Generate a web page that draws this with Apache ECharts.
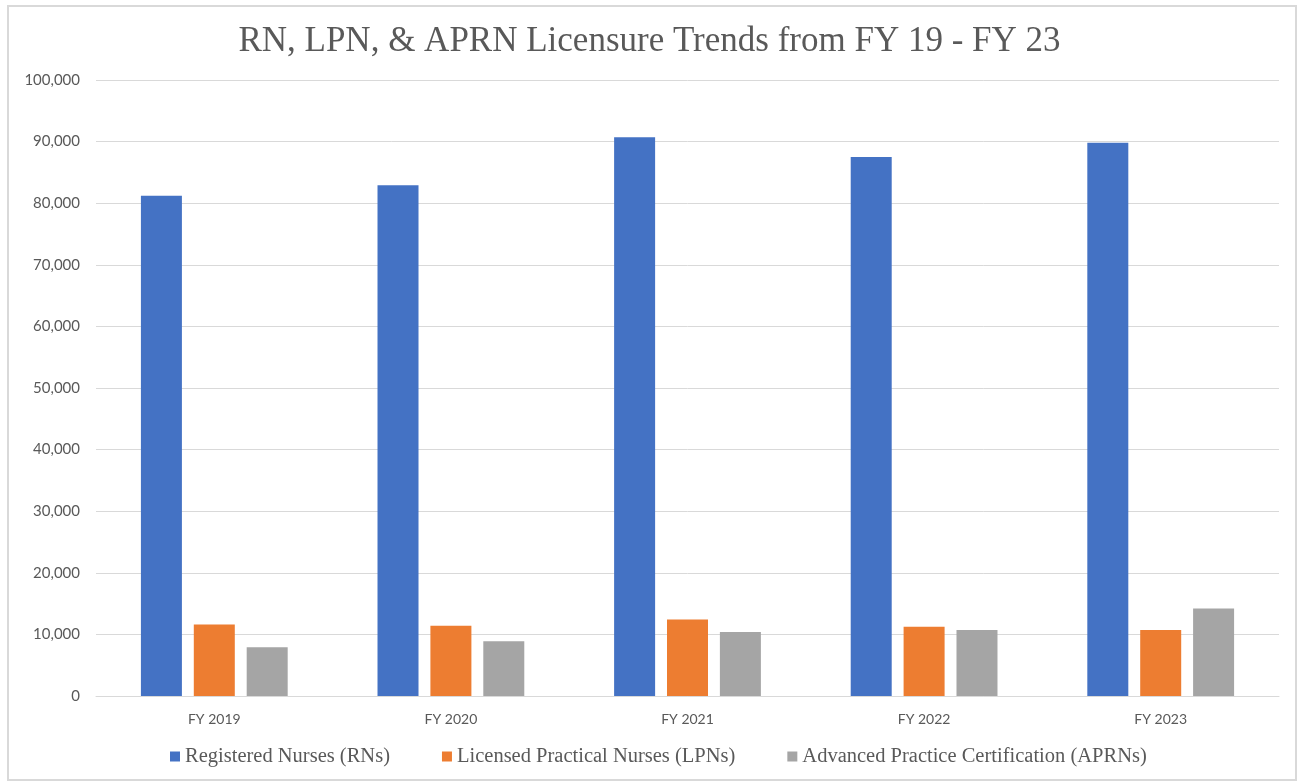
<!DOCTYPE html>
<html>
<head>
<meta charset="utf-8">
<script src="https://cdn.jsdelivr.net/npm/echarts@6/dist/echarts.min.js"></script>
<style>
    html, body { margin: 0; padding: 0; background: #fff; }
    #chart { width: 1299px; height: 782px; }
</style>
</head>
<body>
<div id="chart"></div>
<script>
// 年度類別
const years = ['FY 2019', 'FY 2020', 'FY 2021', 'FY 2022', 'FY 2023'];
// 各類執照數量
const rnCounts = [81200, 82900, 90700, 87500, 89800];
const lpnCounts = [11600, 11400, 12400, 11250, 10700];
const aprnCounts = [7900, 8900, 10400, 10700, 14200];
const seriesNames = ['Registered Nurses (RNs)', 'Licensed Practical Nurses (LPNs)', 'Advanced Practice Certification (APRNs)'];
const colors = ['#4472C4', '#ED7D31', '#A5A5A5'];

const serif = '"Liberation Serif", "DejaVu Serif", serif';
const sans = 'Lato, "Liberation Sans", sans-serif';

function barSeries(name, data, color) {
    return {
        name: name,
        type: 'bar',
        data: data,
        barWidth: 41,
        barGap: '29%',
        itemStyle: { color: color }
    };
}

const option = {
    backgroundColor: '#fff',
    animation: false,
    title: {
        text: 'RN, LPN, & APRN Licensure Trends from FY 19 - FY 23',
        left: 'center',
        top: 19,
        textStyle: { fontFamily: serif, fontSize: 35, fontWeight: 'normal', color: '#595959' }
    },
    graphic: [{
        type: 'rect',
        shape: { x: 8, y: 6, width: 1288, height: 774 },
        style: { fill: 'none', stroke: '#d9d9d9', lineWidth: 2 },
        silent: true
    }],
    legend: {
        data: seriesNames,
        left: 165,
        top: 741,
        itemWidth: 10,
        itemHeight: 10,
        itemGap: 52,
        icon: 'rect',
        textStyle: { fontFamily: serif, fontSize: 20.5, color: '#595959' }
    },
    grid: { left: 96, right: 20, top: 80, bottom: 86 },
    xAxis: {
        type: 'category',
        data: years,
        axisTick: { show: false },
        axisLine: { lineStyle: { color: '#d9d9d9', width: 1 } },
        axisLabel: { fontFamily: sans, fontSize: 14, color: '#595959', margin: 16 }
    },
    yAxis: {
        type: 'value',
        min: 0,
        max: 100000,
        interval: 10000,
        axisLine: { show: false },
        axisTick: { show: false },
        splitLine: { lineStyle: { color: '#d9d9d9', width: 1 } },
        axisLabel: {
            fontFamily: sans, fontSize: 15, color: '#595959', margin: 16,
            formatter: v => v.toLocaleString('en-US')
        }
    },
    series: [
        barSeries(seriesNames[0], rnCounts, colors[0]),
        barSeries(seriesNames[1], lpnCounts, colors[1]),
        barSeries(seriesNames[2], aprnCounts, colors[2])
    ]
};

var chart = echarts.init(document.getElementById('chart'));
chart.setOption(option);
</script>
</body>
</html>
